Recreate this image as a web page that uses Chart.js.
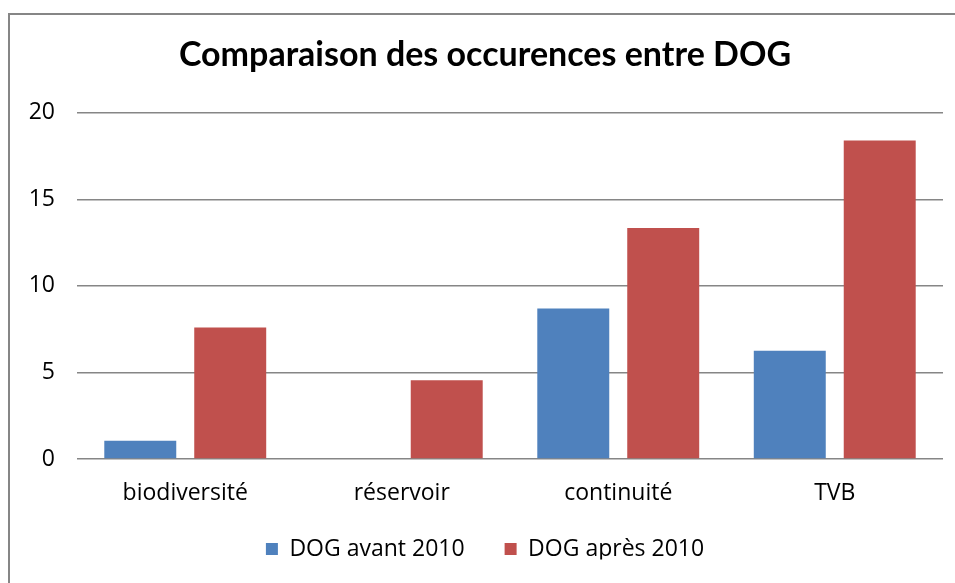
<!DOCTYPE html>
<html lang="fr">
<head>
<meta charset="UTF-8">
<title>Comparaison des occurences entre DOG</title>
<script src="https://cdn.jsdelivr.net/npm/chart.js"></script>
<style>
html, body { margin: 0; padding: 0; background: #fff; }
#wrap { position: relative; width: 955px; height: 583px; overflow: hidden; }
#frame {
    position: absolute; left: 8px; top: 13px; width: 1000px; height: 600px;
    border-left: 2px solid #868686; border-top: 2px solid #868686;
}
#chart { position: absolute; left: 0; top: 0; }
</style>
</head>
<body>
<div id="wrap">
    <div id="frame"></div>
    <canvas id="chart" width="955" height="583"></canvas>
</div>
<script>
// data
const categories = ['biodiversité', 'réservoir', 'continuité', 'TVB'];
const avant2010 = [1.05, 0, 8.7, 6.25];
const apres2010 = [7.6, 4.55, 13.35, 18.4];
const seriesNames = ['DOG avant 2010', 'DOG après 2010'];

const titleFont = "Lato, 'Open Sans', sans-serif";
const font = "'Open Sans', Lato, sans-serif";

// wide gap between legend items, but keep the legend box short and pulled up a bit
const legendBox = {
    id: 'legendBox',
    afterInit(chart) {
        const lg = chart.legend;
        const fit = lg.fit.bind(lg);
        lg.fit = function () { fit(); this.height = 62; };
    },
    afterLayout(chart) {
        chart.legend.top -= 11.5;
        chart.legend.bottom -= 11.5;
    }
};

new Chart(document.getElementById('chart'), {
    type: 'bar',
    data: {
        labels: categories,
        datasets: [
            { label: seriesNames[0], data: avant2010, backgroundColor: '#4F81BD' },
            { label: seriesNames[1], data: apres2010, backgroundColor: '#C0504D' }
        ]
    },
    options: {
        responsive: false,
        animation: false,
        datasets: { bar: { categoryPercentage: 0.831, barPercentage: 0.8 } },
        layout: { padding: { left: 27, right: 12, top: 0, bottom: 12 } },
        plugins: {
            title: {
                display: true,
                text: 'Comparaison des occurences entre DOG',
                color: '#000',
                font: { family: titleFont, size: 34, weight: 'bold' },
                padding: { top: 35, bottom: 37 }
            },
            legend: {
                position: 'bottom',
                labels: {
                    color: '#000',
                    font: { family: font, size: 23 },
                    boxWidth: 12, boxHeight: 12,
                    padding: 40
                }
            },
            tooltip: { enabled: false }
        },
        scales: {
            x: {
                grid: { display: false, drawTicks: false },
                border: { display: false },
                ticks: { color: '#000', font: { family: font, size: 23 }, padding: 21 },
                afterFit: s => { s.height = 50; }
            },
            y: {
                min: 0, max: 20,
                grid: { color: '#868686', lineWidth: 1.5, drawTicks: false },
                border: { display: false },
                ticks: { stepSize: 5, color: '#000', font: { family: font, size: 23 }, padding: 22 },
                afterFit: s => { s.width = 50; }
            }
        }
    },
    plugins: [legendBox]
});
</script>
</body>
</html>
